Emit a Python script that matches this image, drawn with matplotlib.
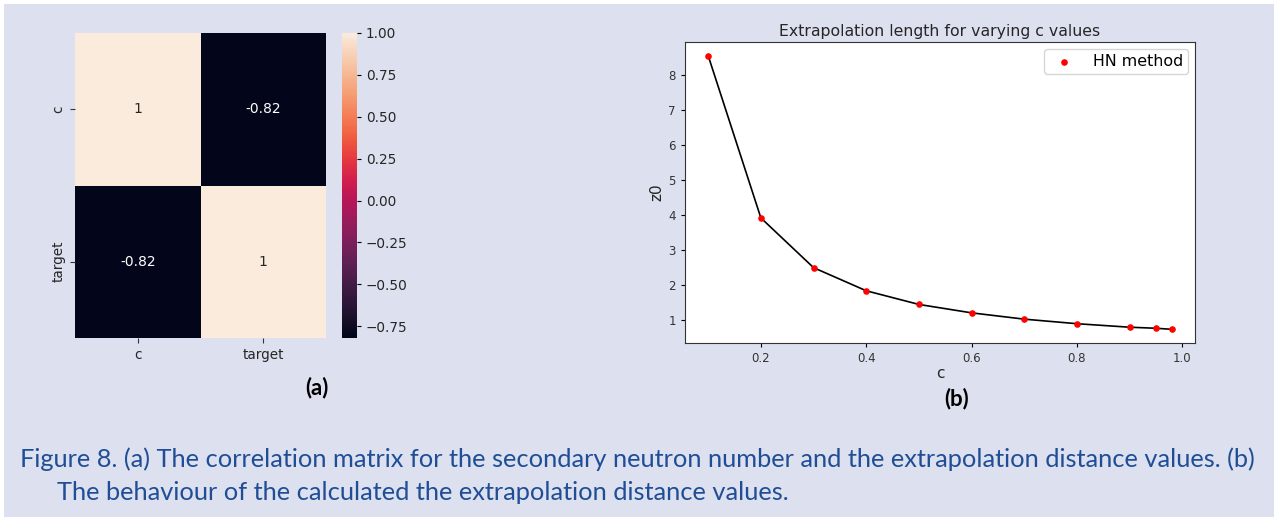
import matplotlib
matplotlib.use("Agg")
import matplotlib.pyplot as plt
import numpy as np
import seaborn as sns
from matplotlib.patches import Rectangle

# ---- data ----
corr_labels = ["c", "target"]
corr_values = [[1.0, -0.82],
               [-0.82, 1.0]]
c_values = [0.1, 0.2, 0.3, 0.4, 0.5, 0.6, 0.7, 0.8, 0.9, 0.95, 0.98]
z0_values = [8.55, 3.92, 2.50, 1.84, 1.45, 1.21, 1.03, 0.90, 0.80, 0.77, 0.74]
cbar_ticks = [-0.75, -0.50, -0.25, 0.00, 0.25, 0.50, 0.75, 1.00]
caption_line1 = ("Figure 8. (a) The correlation matrix for the secondary neutron number "
                 "and the extrapolation distance values. (b)")
caption_line2 = "The behaviour of the calculated the extrapolation distance values."

W, H = 1274, 517
BG = "#DDE0EE"
fig = plt.figure(figsize=(W / 100, H / 100), dpi=100, facecolor=BG)

def px_rect(l, t, r, b):
    return [l / W, (H - b) / H, (r - l) / W, (b - t) / H]

# thin white border on left/top
fig.patches.append(Rectangle((0, 0), 4 / W, 1, transform=fig.transFigure,
                             facecolor="white", edgecolor="none", zorder=-1))
fig.patches.append(Rectangle((0, 1 - 4 / H), 1, 4 / H, transform=fig.transFigure,
                             facecolor="white", edgecolor="none", zorder=-1))

# ---- (a) heatmap ----
ax1 = fig.add_axes(px_rect(75, 33, 326, 338))
cax = fig.add_axes(px_rect(342, 33, 357, 338))
sns.heatmap(np.array(corr_values), annot=True, ax=ax1, cbar_ax=cax,
            xticklabels=corr_labels, yticklabels=corr_labels,
            annot_kws={"fontsize": 10})
ax1.set_facecolor(BG)
ax1.tick_params(labelsize=9.8, colors="#333333", labelcolor="#262626")
ax1.set_yticklabels(corr_labels, rotation=90, va="center")
cax.set_yticks(cbar_ticks)
cax.set_yticklabels([f"{t:.2f}".replace("-", "\u2212") for t in cbar_ticks])
cax.tick_params(labelsize=9.8, labelcolor="#262626", length=3)
for s in cax.spines.values():
    s.set_visible(False)

# ---- (b) line plot ----
ax2 = fig.add_axes(px_rect(685, 42, 1195, 343))
ax2.set_facecolor("white")
ax2.plot(c_values, z0_values, color="black", lw=1.2, zorder=2)
ax2.scatter(c_values, z0_values, color="red", s=14, zorder=3, label="HN method")
ax2.set_title("Extrapolation length for varying c values", fontsize=11.3,
              color="#262626", pad=4)
ax2.set_xlabel("c", fontsize=11, color="#262626", labelpad=1)
ax2.set_ylabel("z0", fontsize=11, color="#262626", labelpad=3)
ax2.set_xticks([0.2, 0.4, 0.6, 0.8, 1.0])
ax2.set_yticks([1, 2, 3, 4, 5, 6, 7, 8])
ax2.tick_params(labelsize=8.5, labelcolor="#333333", length=3)
for s in ax2.spines.values():
    s.set_color("#333333")
ax2.legend(loc="upper right", fontsize=11.4, frameon=True, borderpad=0.3,
           borderaxespad=0.45)

# ---- panel labels ----
fig.text(317 / W, 1 - 388 / H, "(a)", fontsize=16, fontweight="bold",
         family="Lato", ha="center", va="center", color="black")
fig.text(957 / W, 1 - 399 / H, "(b)", fontsize=16, fontweight="bold",
         family="Lato", ha="center", va="center", color="black")

# ---- caption ----
cap_color = "#1F4E96"
t1 = fig.text(20 / W, 1 - 459 / H, caption_line1, fontsize=14, family="Lato",
              color=cap_color, ha="left", va="center")
t2 = fig.text(57 / W, 1 - 492 / H, caption_line2, fontsize=14, family="Lato",
              color=cap_color, ha="left", va="center")
fig.canvas.draw()
r = fig.canvas.get_renderer()
w1 = t1.get_window_extent(r).width
fs = 14 * (1238 / w1)
t1.set_fontsize(fs)
t2.set_fontsize(fs)

fig.savefig("out.png", dpi=100, facecolor=BG)
